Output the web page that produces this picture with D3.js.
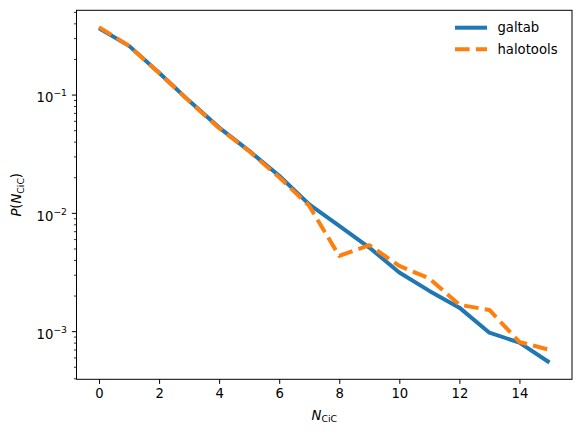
<!DOCTYPE html>
<html><head><meta charset="utf-8">
<script src="https://cdn.jsdelivr.net/npm/d3@7"></script>
<style>
body{margin:0;background:#fff;}
svg text{font-family:"DejaVu Sans",sans-serif;}
</style></head>
<body><svg id="c" width="581" height="435"></svg>
<script>
const nCiC = [0,1,2,3,4,5,6,7,8,9,10,11,12,13,14,15];
const galtab = [0.364,0.258,0.153,0.0885,0.0526,0.0334,0.0206,0.0118,0.00776,0.00509,0.00313,0.00219,0.00158,0.00097,0.00080,0.000543];
const halotools = [0.372,0.258,0.152,0.0880,0.0520,0.0332,0.0200,0.01145,0.00432,0.00533,0.00356,0.00279,0.00167,0.00151,0.00081,0.000695];
const xTicks = [0,2,4,6,8,10,12,14];
const yMajor = [1e-3,1e-2,1e-1];
const yMajorExp = ["−3","−2","−1"];
const seriesNames = ["galtab","halotools"];
const colors = ["#1f77b4","#ff7f0e"];

const svg = d3.select("#c");
const L=76.5, T=10.3, R=572, B=379.3;
const fs = 13.2;

const x = d3.scaleLinear().domain([-0.75,15.75]).range([L,R]);
const all = galtab.concat(halotools);
const lmin = Math.log10(d3.min(all)), lmax = Math.log10(d3.max(all));
const pad = (lmax-lmin)*0.05;
const y = d3.scaleLog().domain([Math.pow(10,lmin-pad), Math.pow(10,lmax+pad)]).range([B,T]);

// minor ticks
const yMinor = [];
for (let e=-4;e<=0;e++) for (let m=2;m<=9;m++){const v=m*Math.pow(10,e); if(v>=y.domain()[0]&&v<=y.domain()[1]) yMinor.push(v);}

const gx = svg.append("g").attr("transform",`translate(0,${B})`)
  .call(d3.axisBottom(x).tickValues(xTicks).tickSize(4.6).tickPadding(4.4).tickFormat(d3.format("d")));
gx.select(".domain").remove();
gx.selectAll("line").attr("stroke","#000").attr("stroke-width",1);
gx.selectAll("text").attr("font-size",fs).attr("fill","#000");

const gyMin = svg.append("g").attr("transform",`translate(${L},0)`)
  .call(d3.axisLeft(y).tickValues(yMinor).tickSize(2.6).tickFormat(""));
gyMin.select(".domain").remove();
gyMin.selectAll("line").attr("stroke","#000").attr("stroke-width",0.8);

const gy = svg.append("g").attr("transform",`translate(${L},0)`)
  .call(d3.axisLeft(y).tickValues(yMajor).tickSize(4.6).tickFormat(""));
gy.select(".domain").remove();
gy.selectAll("line").attr("stroke","#000").attr("stroke-width",1);
gy.selectAll(".tick").each(function(d,i){
  const t = d3.select(this).append("text").attr("fill","#000").attr("font-size",fs)
    .attr("text-anchor","end").attr("x",-9.5).attr("y",7.2);
  t.append("tspan").text("10");
  t.append("tspan").attr("font-size",fs*0.7).attr("dy",-6).text(yMajorExp[i]);
});

// lines
const line = d3.line().x((d,i)=>x(nCiC[i])).y(d=>y(d));
const clip = svg.append("clipPath").attr("id","clip").append("rect").attr("x",L).attr("y",T).attr("width",R-L).attr("height",B-T);
const gp = svg.append("g").attr("clip-path","url(#clip)");
gp.append("path").datum(galtab).attr("d",line).attr("fill","none").attr("stroke",colors[0]).attr("stroke-width",4).attr("stroke-linejoin","round").attr("stroke-linecap","butt");
gp.append("path").datum(halotools).attr("d",line).attr("fill","none").attr("stroke",colors[1]).attr("stroke-width",4).attr("stroke-dasharray","14.6,6.3").attr("stroke-linejoin","round");

// frame
svg.append("rect").attr("x",L).attr("y",T).attr("width",R-L).attr("height",B-T).attr("fill","none").attr("stroke","#000").attr("stroke-width",1);

// legend
const lg = svg.append("g");
[27.7,49.3].forEach((ly,i)=>{
  lg.append("line").attr("x1",455).attr("x2",487).attr("y1",ly).attr("y2",ly)
    .attr("stroke",colors[i]).attr("stroke-width",4).attr("stroke-dasharray", i? "14.6,6.3":null);
  lg.append("text").attr("x",497.5).attr("y",ly+4.7).attr("font-size",fs).attr("fill","#000").text(seriesNames[i]);
});

// axis labels
const xl = svg.append("text").attr("x",(L+R)/2).attr("y",419.8).attr("text-anchor","middle").attr("font-size",fs).attr("fill","#000");
xl.append("tspan").attr("font-style","italic").text("N");
xl.append("tspan").attr("font-size",fs*0.7).attr("dy",2.3).text("CiC");

const yl = svg.append("text").attr("transform",`translate(21.3,${(T+B)/2}) rotate(-90)`).attr("text-anchor","middle").attr("font-size",fs).attr("fill","#000");
yl.append("tspan").attr("font-style","italic").text("P");
yl.append("tspan").text("(");
yl.append("tspan").attr("font-style","italic").text("N");
yl.append("tspan").attr("font-size",fs*0.7).attr("dy",2.3).text("CiC");
yl.append("tspan").attr("dy",-2.3).text(")");
</script></body></html>
